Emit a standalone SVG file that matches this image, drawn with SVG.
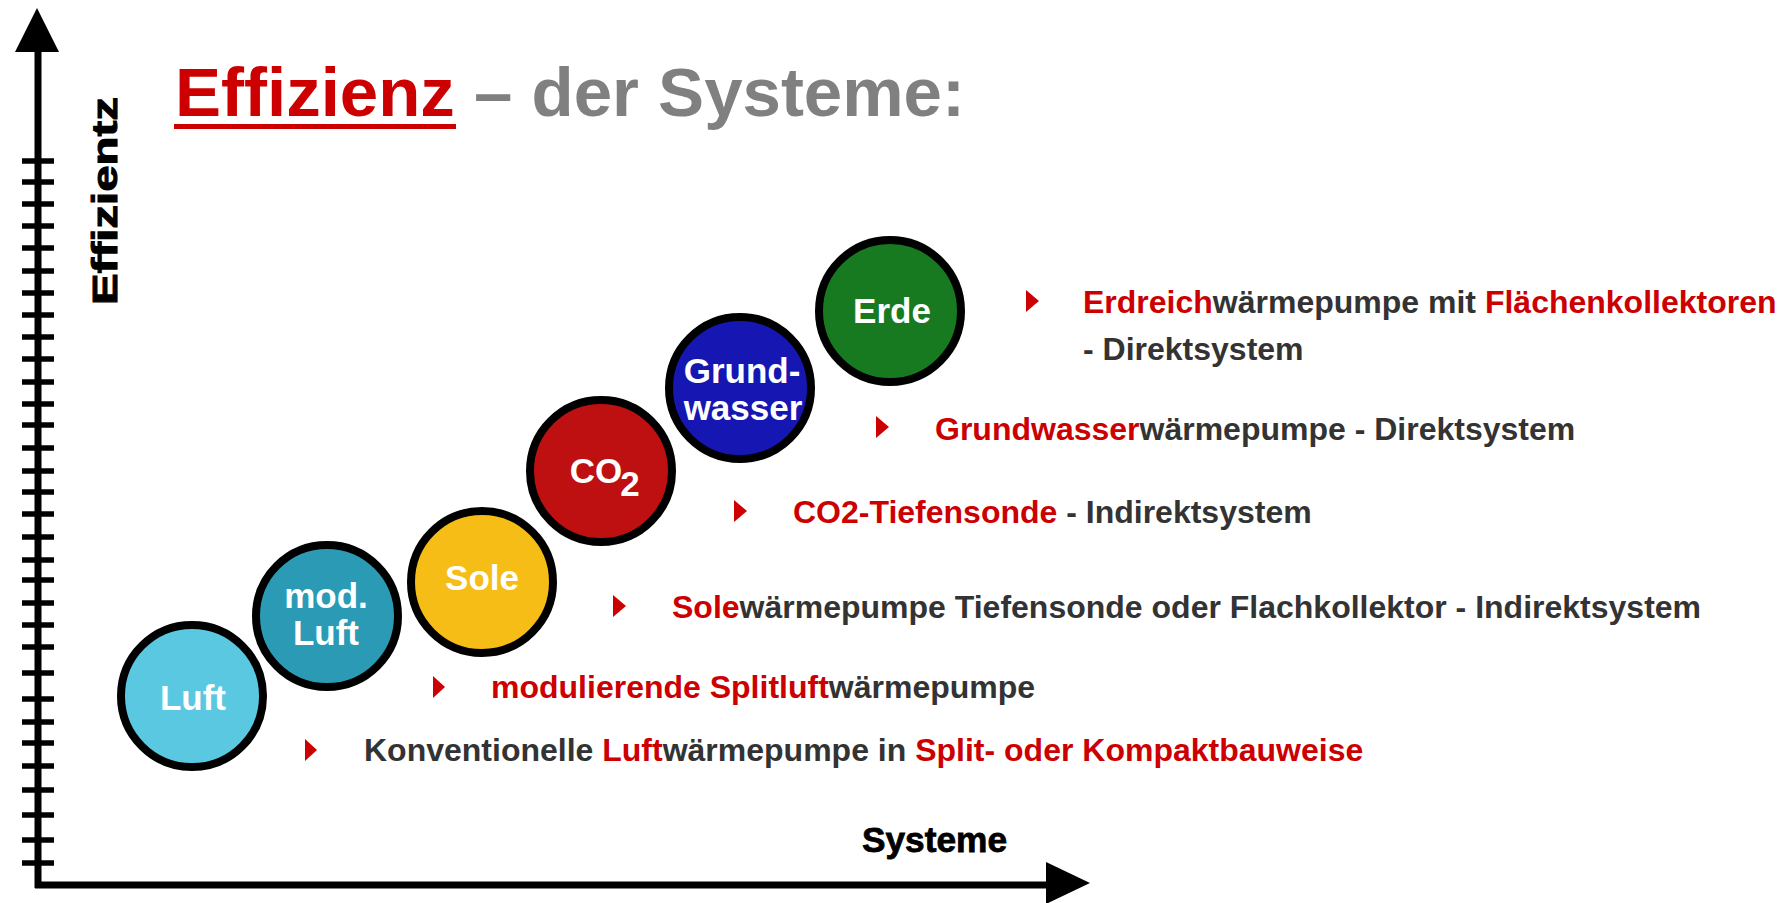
<svg xmlns="http://www.w3.org/2000/svg" width="1792" height="903" viewBox="0 0 1792 903">
<defs>
<style>
.ax{stroke:#000;stroke-width:7;fill:none}
.tk{stroke:#000;stroke-width:5.5}
.circ{stroke:#000;stroke-width:8}
.cl{font-family:"Liberation Sans",Arial,sans-serif;font-weight:bold;fill:#fff;text-anchor:middle;font-size:35px}
.axl{font-family:"Liberation Sans",Arial,sans-serif;font-weight:bold;fill:#000;font-size:35px}
.t{font-family:"Liberation Sans",Arial,sans-serif;font-weight:bold;font-size:32px;fill:#333}
.r{fill:#cc0000}
.bul{fill:#cc0000}
</style>
</defs>
<rect width="1792" height="903" fill="#fff"/>
<g id="axes">
<line class="ax" x1="38" y1="48" x2="38" y2="888"/>
<polygon points="37,8 15,52 59,52" fill="#000"/>
<line class="ax" x1="35" y1="885" x2="1050" y2="885"/>
<polygon points="1090,883 1046,862 1046,904" fill="#000"/>
<g class="tk">
<line x1="22" x2="54" y1="161" y2="161"/><line x1="22" x2="54" y1="182" y2="182"/><line x1="22" x2="54" y1="204" y2="204"/><line x1="22" x2="54" y1="226" y2="226"/><line x1="22" x2="54" y1="248" y2="248"/><line x1="22" x2="54" y1="271" y2="271"/><line x1="22" x2="54" y1="293" y2="293"/><line x1="22" x2="54" y1="315" y2="315"/><line x1="22" x2="54" y1="337" y2="337"/><line x1="22" x2="54" y1="359" y2="359"/><line x1="22" x2="54" y1="382" y2="382"/><line x1="22" x2="54" y1="404" y2="404"/><line x1="22" x2="54" y1="425" y2="425"/><line x1="22" x2="54" y1="448" y2="448"/><line x1="22" x2="54" y1="471" y2="471"/><line x1="22" x2="54" y1="492" y2="492"/><line x1="22" x2="54" y1="514" y2="514"/><line x1="22" x2="54" y1="537" y2="537"/><line x1="22" x2="54" y1="560" y2="560"/><line x1="22" x2="54" y1="580" y2="580"/><line x1="22" x2="54" y1="603" y2="603"/><line x1="22" x2="54" y1="625" y2="625"/><line x1="22" x2="54" y1="647" y2="647"/><line x1="22" x2="54" y1="673" y2="673"/><line x1="22" x2="54" y1="699" y2="699"/><line x1="22" x2="54" y1="722" y2="722"/><line x1="22" x2="54" y1="743" y2="743"/><line x1="22" x2="54" y1="766" y2="766"/><line x1="22" x2="54" y1="790" y2="790"/><line x1="22" x2="54" y1="815" y2="815"/><line x1="22" x2="54" y1="840" y2="840"/><line x1="22" x2="54" y1="863" y2="863"/>
</g>
<text class="axl" transform="translate(117,305) rotate(-90)" font-size="48" textLength="208" lengthAdjust="spacingAndGlyphs" stroke="#000" stroke-width="1">Effizientz</text>
<text class="axl" x="862" y="852" textLength="145" lengthAdjust="spacingAndGlyphs" stroke="#000" stroke-width="0.8">Systeme</text>
</g>
<g id="title">
<text x="175" y="116" font-family="'Liberation Sans',Arial,sans-serif" font-weight="bold" font-size="69"><tspan fill="#cc0000">Effizienz</tspan><tspan fill="#808080"> – der Systeme:</tspan></text>
<rect x="174" y="124" width="282" height="5" fill="#cc0000"/>
</g>
<g id="node-luft">
<circle class="circ" cx="192" cy="696" r="71" fill="#5bc8e2"/>
<text class="cl" x="193" y="710">Luft</text>
</g>
<g id="node-modluft">
<circle class="circ" cx="327" cy="616" r="71" fill="#2b9bb5"/>
<text class="cl" x="326" y="608">mod.</text>
<text class="cl" x="326" y="645">Luft</text>
</g>
<g id="node-sole">
<circle class="circ" cx="482" cy="582" r="71" fill="#f6bd17"/>
<text class="cl" x="482" y="590">Sole</text>
</g>
<g id="node-co2">
<circle class="circ" cx="601" cy="471" r="71" fill="#be1010"/>
<text class="cl" x="596" y="483" font-size="37">CO</text>
<text class="cl" x="630" y="496" font-size="18">2</text>
</g>
<g id="node-grundwasser">
<circle class="circ" cx="740" cy="388" r="71" fill="#1616b3"/>
<text class="cl" x="742" y="383" font-size="34">Grund-</text>
<text class="cl" x="743" y="420" font-size="34">wasser</text>
</g>
<g id="node-erde">
<circle class="circ" cx="890" cy="311" r="71" fill="#187a20"/>
<text class="cl" x="892" y="323">Erde</text>
</g>
<g id="list">
<polygon class="bul" points="1026,290 1039,301 1026,312"/>
<text class="t" x="1083" y="313"><tspan class="r">Erdreich</tspan>wärmepumpe mit <tspan class="r">Flächenkollektoren</tspan></text>
<text class="t" x="1083" y="360">- Direktsystem</text>
<polygon class="bul" points="876,416 889,427 876,438"/>
<text class="t" x="935" y="440"><tspan class="r">Grundwasser</tspan>wärmepumpe - Direktsystem</text>
<polygon class="bul" points="734,500 747,511 734,522"/>
<text class="t" x="793" y="523"><tspan class="r">CO2-Tiefensonde</tspan> - Indirektsystem</text>
<polygon class="bul" points="613,595 626,606 613,617"/>
<text class="t" x="672" y="618"><tspan class="r">Sole</tspan>wärmepumpe Tiefensonde oder Flachkollektor - Indirektsystem</text>
<polygon class="bul" points="433,676 445,687 433,698"/>
<text class="t" x="491" y="698"><tspan class="r">modulierende Splitluft</tspan>wärmepumpe</text>
<polygon class="bul" points="305,739 317,750 305,761"/>
<text class="t" x="364" y="761">Konventionelle <tspan class="r">Luft</tspan>wärmepumpe in <tspan class="r">Split- oder Kompaktbauweise</tspan></text>
</g>
</svg>
